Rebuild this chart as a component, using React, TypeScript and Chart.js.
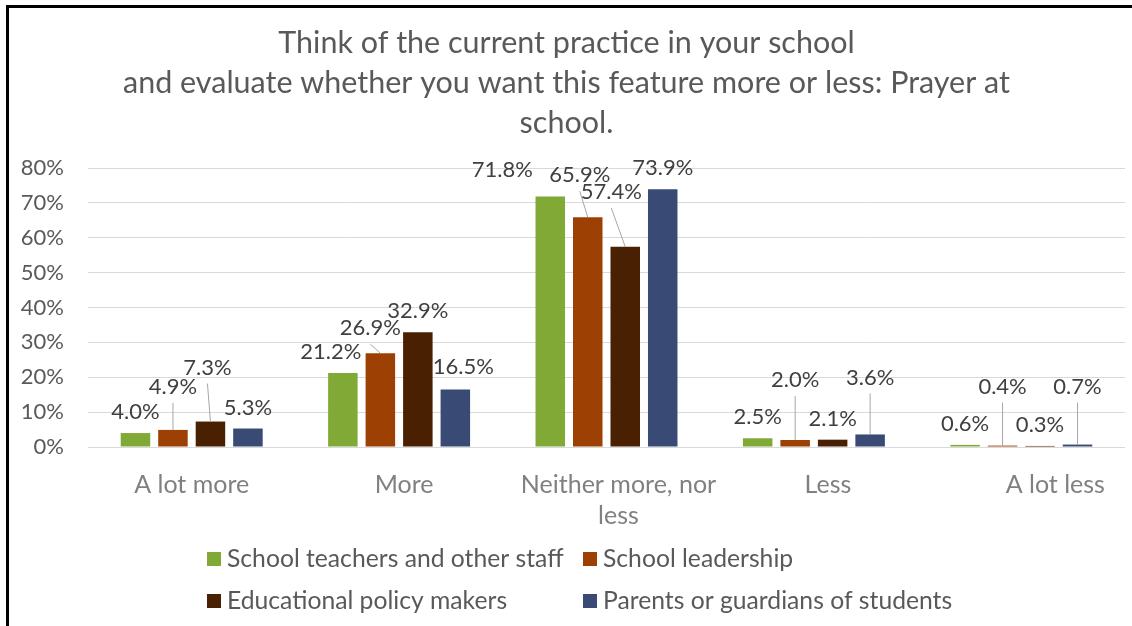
import React, { useEffect, useRef } from 'react';
import { Chart, registerables } from 'chart.js';

Chart.register(...registerables);

// ---------- data ----------
const categories: (string | string[])[] = ['A lot more', 'More', ['Neither more, nor', 'less'], 'Less', 'A lot less'];
const seriesNames = [
  'School teachers and other staff',
  'School leadership',
  'Educational policy makers',
  'Parents or guardians of students',
];
const teachers = [4.0, 21.2, 71.8, 2.5, 0.6];
const leadership = [4.9, 26.9, 65.9, 2.0, 0.4];
const policyMakers = [7.3, 32.9, 57.4, 2.1, 0.3];
const parents = [5.3, 16.5, 73.9, 3.6, 0.7];
const yMax = 80;
const yStep = 10;

const titleLines = [
  'Think of the current practice in your school',
  'and evaluate whether you want this feature more or less: Prayer at',
  'school.',
];

// ---------- styling / label placement (not data) ----------
const colors = ['#80A936', '#9C4103', '#4A2002', '#394A74'];
const FONT = 'Lato, "Open Sans", sans-serif';

// data-label displacement [dx, dy] relative to default position above bar
const teachersLabelShift = [[0, 0], [-12, 0], [-48, -6], [0, 0], [0, 0]];
const leadershipLabelShift = [[0, -22], [-10, -4], [-8, -21], [0, -39], [0, -38]];
const policyLabelShift = [[-3, -33], [0, 0], [-14, -34], [0, 0], [0, 0]];
const parentsLabelShift = [[0, 0], [8, -2], [0, 0], [0, -36], [0, -37]];
const labelShifts = [teachersLabelShift, leadershipLabelShift, policyLabelShift, parentsLabelShift];

const teachersLeader = [false, false, false, false, false];
const leadershipLeader = [true, true, true, true, true];
const policyLeader = [true, false, true, false, false];
const parentsLeader = [false, false, false, true, true];
const leaders = [teachersLeader, leadershipLeader, policyLeader, parentsLeader];

const xLabelShift = [0, 5, 12, 14, 34];

const dataLabelPlugin = {
  id: 'dataLabels',
  afterDatasetsDraw(chart: any) {
    const ctx = chart.ctx;
    ctx.save();
    ctx.font = `22px ${FONT}`;
    ctx.textAlign = 'center';
    ctx.textBaseline = 'middle';
    chart.data.datasets.forEach((ds: any, di: number) => {
      const meta = chart.getDatasetMeta(di);
      meta.data.forEach((bar: any, i: number) => {
        const [dx, dy] = labelShifts[di][i];
        const cx = bar.x + dx;
        const cy = bar.y - 21 + dy;
        if (leaders[di][i]) {
          ctx.strokeStyle = '#a6a6a6';
          ctx.lineWidth = 1;
          ctx.beginPath();
          ctx.moveTo(cx, cy + 16);
          ctx.lineTo(bar.x, bar.y);
          ctx.stroke();
        }
        ctx.fillStyle = '#404040';
        ctx.fillText(ds.data[i].toFixed(1) + '%', cx, cy);
      });
    });
    ctx.restore();
  },
};

const xLabelPlugin = {
  id: 'xLabels',
  afterDraw(chart: any) {
    const ctx = chart.ctx;
    const xs = chart.scales.x;
    ctx.save();
    ctx.font = `25px ${FONT}`;
    ctx.fillStyle = '#808080';
    ctx.textAlign = 'center';
    ctx.textBaseline = 'middle';
    categories.forEach((c, i) => {
      const lines = Array.isArray(c) ? c : [c];
      const x = xs.getPixelForValue(i) + xLabelShift[i];
      lines.forEach((ln, k) => {
        ctx.fillText(ln, x, chart.chartArea.bottom + 38 + k * 31);
      });
    });
    ctx.restore();
  },
};

const legendCols = [207, 583];
const legendRows = [559, 601];
const legendPlugin = {
  id: 'customLegend',
  afterDraw(chart: any) {
    const ctx = chart.ctx;
    ctx.save();
    ctx.font = `24.7px ${FONT}`;
    ctx.textAlign = 'left';
    ctx.textBaseline = 'middle';
    chart.data.datasets.forEach((ds: any, di: number) => {
      const x = legendCols[di % 2];
      const y = legendRows[Math.floor(di / 2)];
      ctx.fillStyle = ds.backgroundColor;
      ctx.fillRect(x, y - 7, 14, 14);
      ctx.fillStyle = '#595959';
      ctx.fillText(ds.label, x + 20, y);
    });
    ctx.restore();
  },
};

export default function App() {
  const ref = useRef<HTMLCanvasElement | null>(null);
  useEffect(() => {
    if (!ref.current) return;
    const series = [teachers, leadership, policyMakers, parents];
    const chart = new Chart(ref.current, {
      type: 'bar',
      data: {
        labels: categories,
        datasets: series.map((d, i) => ({
          label: seriesNames[i],
          data: d,
          backgroundColor: colors[i],
          borderWidth: 0,
          categoryPercentage: 0.723,
          barPercentage: 0.787,
        })),
      },
      options: {
        animation: false,
        responsive: false,
        layout: { padding: { left: 8, right: 7, top: 0, bottom: 119 } },
        plugins: {
          legend: { display: false },
          tooltip: { enabled: false },
          title: {
            display: true,
            text: titleLines,
            color: '#595959',
            font: { family: FONT, size: 30.5, weight: 'normal', lineHeight: 40 / 30.5 },
            padding: { top: 23, bottom: 25 },
          },
        },
        scales: {
          x: {
            grid: { display: false },
            border: { display: false },
            ticks: { display: false },
            afterFit: (s: any) => { s.height = 60; },
          },
          y: {
            min: 0,
            max: yMax,
            border: { display: false },
            grid: { color: '#d9d9d9', lineWidth: 1, drawTicks: false },
            ticks: {
              stepSize: yStep,
              padding: 24,
              color: '#595959',
              font: { family: FONT, size: 22 },
              callback: (v: any) => v + '%',
            },
            afterFit: (s: any) => { s.width = 80; },
          },
        },
      },
      plugins: [dataLabelPlugin, xLabelPlugin, legendPlugin],
    });
    return () => chart.destroy();
  }, []);

  return (
    <div style={{ position: 'fixed', left: 0, top: 0, width: 1132, height: 626, background: '#fff', overflow: 'hidden' }}>
      <div style={{ position: 'absolute', left: 6, top: 5, right: 0, bottom: -10, borderTop: '3px solid #000', borderLeft: '3px solid #000' }} />
      <canvas ref={ref} width={1132} height={626} style={{ position: 'absolute', left: 0, top: 0 }} />
    </div>
  );
}
